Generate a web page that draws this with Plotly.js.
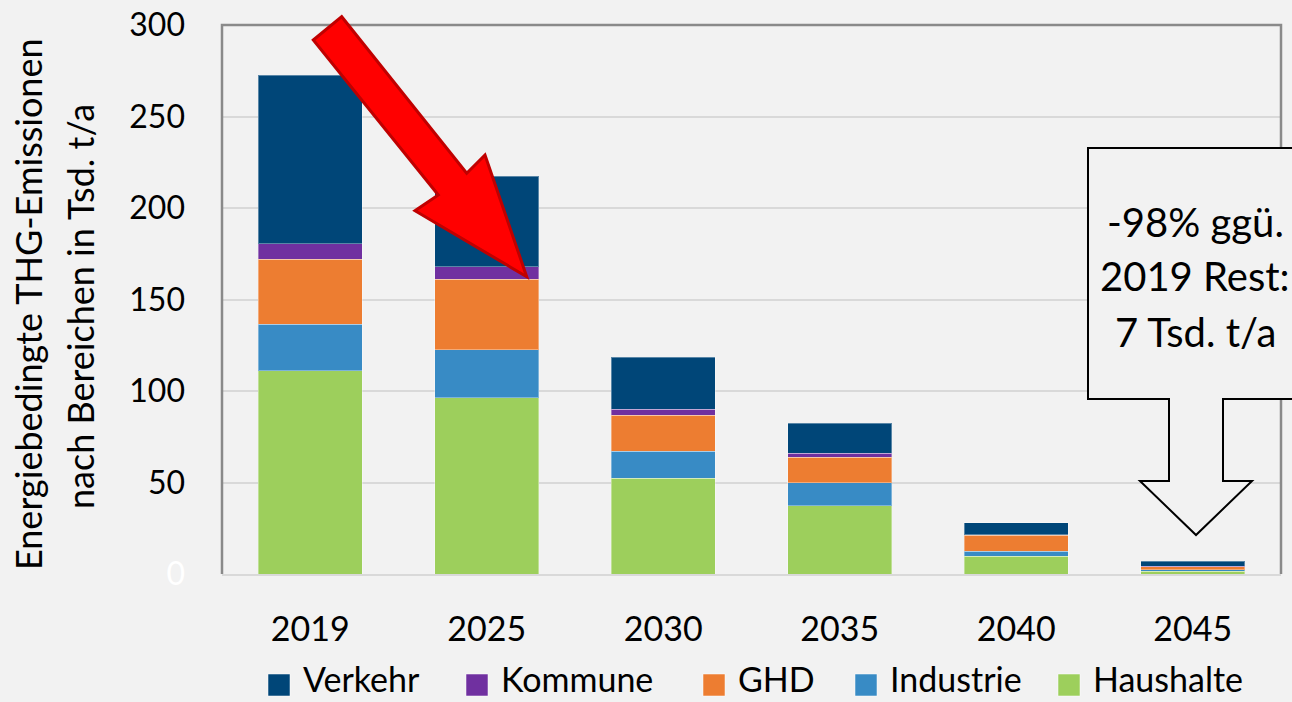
<!DOCTYPE html>
<html>
<head>
<meta charset="utf-8">
<script src="https://cdn.plot.ly/plotly-3.0.1.min.js"></script>
<style>
html,body{margin:0;padding:0;background:#F2F2F2;}
#chart{width:1292px;height:702px;}
</style>
</head>
<body>
<div id="chart"></div>
<script>
// ---- data ----
const years = ['2019', '2025', '2030', '2035', '2040', '2045'];
const haushalte = [111.0, 96.3, 52.2, 37.4, 9.6, 1.4];
const industrie = [25.5, 26.2, 14.9, 12.4, 2.9, 0.9];
const ghd = [35.4, 38.7, 19.7, 13.9, 8.6, 1.7];
const kommune = [8.6, 6.7, 3.2, 2.2, 0.3, 0.2];
const verkehr = [92.1, 49.5, 28.5, 16.4, 6.7, 2.9];
const seriesNames = ['Haushalte', 'Industrie', 'GHD', 'Kommune', 'Verkehr'];
const seriesColors = ['#9DCF5C', '#388BC5', '#ED7D31', '#7030A0', '#004678'];
const legendOrder = ['Verkehr', 'Kommune', 'GHD', 'Industrie', 'Haushalte'];
const yTickVals = [0, 50, 100, 150, 200, 250, 300];
const yTitleLines = ['Energiebedingte THG-Emissionen', 'nach Bereichen in Tsd. t/a'];
const calloutLines = ['-98% ggü.', '2019 Rest:', '7 Tsd. t/a'];

// ---- layout helpers (pixel -> paper) ----
const W = 1292, H = 702;
const L = 222, R = 11, T = 25, B = 128;
const pw = W - L - R, ph = H - T - B;
const px = x => (x - L) / pw;
const py = y => (H - B - y) / ph;
const path = pts => 'M ' + pts.map(p => px(p[0]).toFixed(5) + ',' + py(p[1]).toFixed(5)).join(' L ');

const FONT = 'Lato, "Open Sans", sans-serif';
const valuesByName = {Haushalte: haushalte, Industrie: industrie, GHD: ghd, Kommune: kommune, Verkehr: verkehr};

const traces = seriesNames.map((n, i) => ({
  type: 'bar',
  name: n,
  x: years,
  y: valuesByName[n],
  marker: {color: seriesColors[i], line: {color: 'rgba(255,255,255,0.35)', width: 1}},
  hoverinfo: 'x+y+name'
}));

const shapes = [];
const annotations = [];

// plot border (top/left/right darker)
shapes.push({type: 'path', xref: 'paper', yref: 'paper',
  path: path([[222, 574], [222, 25], [1281, 25], [1281, 574]]),
  line: {color: '#8A8A8A', width: 2.5}, fillcolor: 'rgba(0,0,0,0)', layer: 'above'});

// red arrow
shapes.push({type: 'path', xref: 'paper', yref: 'paper',
  path: path([[313.3, 40], [341.7, 16.7], [466.7, 173.3], [485, 155], [526.7, 276.7], [415, 210.7], [438.3, 195]]) + ' Z',
  fillcolor: '#FF0000', line: {color: '#C00000', width: 3}, layer: 'above'});

// callout box with down arrow
shapes.push({type: 'path', xref: 'paper', yref: 'paper',
  path: path([[1310, 148], [1088, 148], [1088, 399], [1169, 399], [1169, 481], [1140, 481], [1196, 535], [1252, 481], [1223, 481], [1223, 399], [1310, 399]]) + ' Z',
  fillcolor: '#F2F2F2', line: {color: '#000000', width: 2}, layer: 'above'});

const calloutY = [222, 276, 332];
calloutLines.forEach((t, i) => {
  annotations.push({xref: 'paper', yref: 'paper', x: px(1195), y: py(calloutY[i]), xanchor: 'center', yanchor: 'middle',
    text: t, showarrow: false, font: {family: FONT, size: 40, color: '#000000'}});
});

// y title (two lines)
annotations.push({xref: 'paper', yref: 'paper', x: px(28), y: py(304), xanchor: 'center', yanchor: 'middle',
  text: yTitleLines[0], textangle: -90, showarrow: false, font: {family: FONT, size: 36, color: '#000'}});
annotations.push({xref: 'paper', yref: 'paper', x: px(80), y: py(307), xanchor: 'center', yanchor: 'middle',
  text: yTitleLines[1], textangle: -90, showarrow: false, font: {family: FONT, size: 36, color: '#000'}});

// legend
const legMarkX = [268, 466, 703, 855, 1058];
legendOrder.forEach((n, i) => {
  const c = seriesColors[seriesNames.indexOf(n)];
  shapes.push({type: 'rect', xref: 'paper', yref: 'paper',
    x0: px(legMarkX[i]), x1: px(legMarkX[i] + 22), y0: py(696), y1: py(674),
    fillcolor: c, line: {color: 'rgba(255,255,255,0.5)', width: 1}, layer: 'above'});
  annotations.push({xref: 'paper', yref: 'paper', x: px(legMarkX[i] + 33), y: py(678), xanchor: 'left', yanchor: 'middle',
    text: n, showarrow: false, font: {family: FONT, size: 34, color: '#000'}});
});

const layout = {
  width: W, height: H,
  margin: {l: L, r: R, t: T, b: B, pad: 0},
  paper_bgcolor: '#F2F2F2', plot_bgcolor: '#F2F2F2',
  barmode: 'stack', bargap: 0.41,
  showlegend: false,
  font: {family: FONT, color: '#000'},
  xaxis: {type: 'category', range: [-0.5, 5.5], showgrid: false, showline: true, linecolor: '#D9D9D9', linewidth: 2,
    ticks: '', ticklabelstandoff: 24, tickfont: {family: FONT, size: 34, color: '#000'}, fixedrange: true},
  yaxis: {range: [0, 300], tickvals: yTickVals,
    ticktext: yTickVals.map(v => v === 0 ? '<span style="color:#FFFFFF">0</span>' : String(v)),
    showgrid: true, gridcolor: '#D9D9D9', gridwidth: 2, zeroline: false, showline: false, ticks: '',
    ticklabelstandoff: 36, tickfont: {family: FONT, size: 32, color: '#000'}, fixedrange: true},
  shapes: shapes,
  annotations: annotations
};

Plotly.newPlot('chart', traces, layout, {displayModeBar: false, staticPlot: true});
</script>
</body>
</html>
